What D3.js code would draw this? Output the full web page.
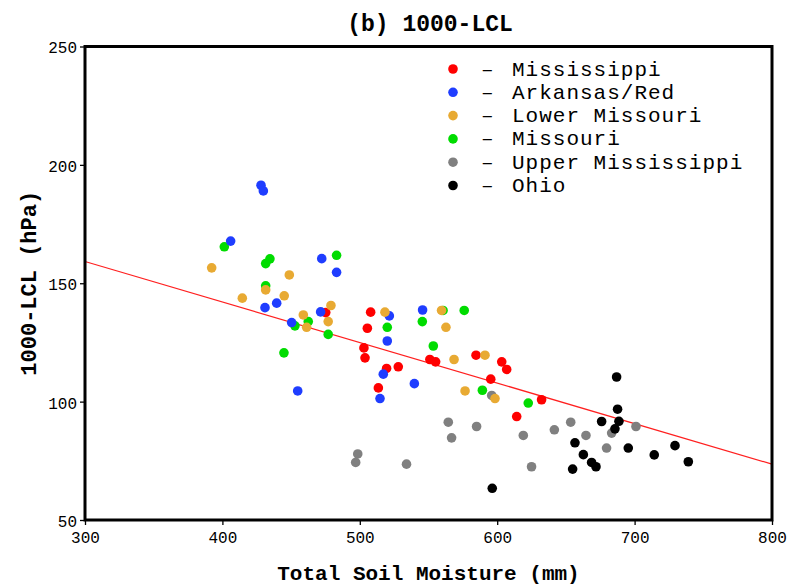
<!DOCTYPE html>
<html><head><meta charset="utf-8">
<script src="https://cdn.jsdelivr.net/npm/d3@7"></script>
<style>body{margin:0;background:#fff}svg{display:block}</style>
</head><body><svg id="c" width="787" height="585"></svg>
<script>
// ---- data ----
const seriesNames = ["Mississippi","Arkansas/Red","Lower Missouri","Missouri","Upper Mississippi","Ohio"];
const seriesColors = ["#ff0000","#1f3dff","#e8aa33","#00dc00","#808080","#000000"];

const mississippiX = [475.2,507.9,505.5,503,503.8,519.5,528,513.5,551,555.2,584.6,603.3,606.9,595.3,632.3,614.2];
const mississippiY = [137.6,137.8,131.0,122.7,118.5,114,114.7,105.8,117.8,116.8,119.6,116.8,113.6,109.5,100.8,93.7];

const arkansasX = [428.1,429.8,406,439.5,431,450.4,472.3,483.1,471.5,454.8,521.5,520,517.1,514.7,539.7,545.7];
const arkansasY = [191.4,189.0,167.8,141.6,139.7,133.4,160.4,154.6,137.9,104.5,136.2,125.6,111.6,101.3,107.6,138.7];

const lowerMissouriX = [392.2,414.5,431.5,445,448.7,458.9,461.3,479,477,518.3,559.5,562.7,568.6,591.1,576.6,598.4];
const lowerMissouriY = [156.5,143.7,147.2,144.7,153.5,136.6,131.4,140.6,133.8,137.8,138.5,131.4,117.8,119.6,104.5,101.3];

const missouriX = [401.4,431.5,434.6,431.5,452.8,444.8,462.5,483.1,477,520,545.5,560.6,576,553.5,589.2,622.6];
const missouriY = [165.4,158.3,160.3,148.9,132.0,120.6,133.8,161.8,128.4,131.4,133.8,138.5,138.5,123.5,104.8,99.4];

const upperMissX = [596,564.4,585,566.8,619,641.6,653.5,664.6,498.5,497,534,625,683.3,701,679.6];
const upperMissY = [102.6,91.3,89.5,84.7,85.7,88.1,91.3,85.7,77.9,74.3,73.6,72.5,86.7,89.5,80.4];

const ohioX = [686.9,687.6,688.6,685.7,676,656.6,662.7,668.7,671.9,654.9,695.4,714.3,729.4,739.1,596.4];
const ohioY = [110.4,96.8,91.7,88.5,91.6,82.6,77.6,74.3,72.5,71.5,80.4,77.5,81.4,74.6,63.4];

const xTicks = [300,400,500,600,700,800];
const yTicks = [50,100,150,200,250];
const fitX = [300,800];
const fitY = [159.2,73.6];

const titleText = "(b) 1000-LCL";
const xLabel = "Total Soil Moisture (mm)";
const yLabel = "1000-LCL (hPa)";

// ---- chart ----
const svg = d3.select("#c");
const L = 85, R = 772, T = 46.5, B = 520;
const x = d3.scaleLinear().domain([300,800]).range([L,R]);
const y = d3.scaleLinear().domain([50,250]).range([B,T]);

const mono = "'Liberation Mono','DejaVu Sans Mono',monospace";

// axes
const xAxis = d3.axisBottom(x).tickValues(xTicks).tickSize(5).tickPadding(7).tickFormat(d3.format("d"));
const yAxis = d3.axisLeft(y).tickValues(yTicks).tickSize(5).tickPadding(3).tickFormat(d3.format("d"));
const gx = svg.append("g").attr("transform",`translate(0,${B})`).call(xAxis);
const gy = svg.append("g").attr("transform",`translate(${L},0)`).call(yAxis);
[gx,gy].forEach(g=>{
  g.select(".domain").remove();
  g.selectAll(".tick line").attr("stroke","#000").attr("stroke-width",1.3);
  g.selectAll(".tick text").attr("font-family",mono).attr("font-size",16).attr("fill","#000");
});
gy.selectAll(".tick text").attr("dy","0.4em");

// regression line
svg.append("line")
  .attr("x1",x(fitX[0])).attr("y1",y(fitY[0]))
  .attr("x2",x(fitX[1])).attr("y2",y(fitY[1]))
  .attr("stroke","#ff2020").attr("stroke-width",1.2);

// points
const series = [
  {name:seriesNames[4], color:seriesColors[4], xs:upperMissX, ys:upperMissY},
  {name:seriesNames[5], color:seriesColors[5], xs:ohioX, ys:ohioY},
  {name:seriesNames[3], color:seriesColors[3], xs:missouriX, ys:missouriY},
  {name:seriesNames[0], color:seriesColors[0], xs:mississippiX, ys:mississippiY},
  {name:seriesNames[1], color:seriesColors[1], xs:arkansasX, ys:arkansasY},
  {name:seriesNames[2], color:seriesColors[2], xs:lowerMissouriX, ys:lowerMissouriY}
];
series.forEach(s=>{
  svg.append("g").selectAll("circle")
    .data(s.xs.map((v,i)=>[v,s.ys[i]]))
    .join("circle")
    .attr("cx",d=>x(d[0])).attr("cy",d=>y(d[1]))
    .attr("r",4.8).attr("fill",s.color);
});

// frame
svg.append("rect").attr("x",L).attr("y",T).attr("width",R-L).attr("height",B-T)
  .attr("fill","none").attr("stroke","#000").attr("stroke-width",3);

// legend
const lg = svg.append("g");
seriesNames.forEach((n,i)=>{
  const cy = 69 + i*23.3;
  lg.append("circle").attr("cx",453).attr("cy",cy).attr("r",4.8).attr("fill",seriesColors[i]);
  lg.append("text").attr("x",481).attr("y",cy+6.5).attr("font-family",mono).attr("font-size",21).text("–");
  lg.append("text").attr("x",512).attr("y",cy+6.5).attr("font-family",mono).attr("font-size",21)
    .attr("letter-spacing",1).text(n);
});

// titles
svg.append("text").attr("x",430).attr("y",31).attr("text-anchor","middle")
  .attr("font-family",mono).attr("font-weight","bold").attr("font-size",23).text(titleText);
svg.append("text").attr("x",428.5).attr("y",580).attr("text-anchor","middle")
  .attr("font-family",mono).attr("font-weight","bold").attr("font-size",21).text(xLabel);
svg.append("text").attr("transform",`translate(36,${(T+B)/2}) rotate(-90)`).attr("text-anchor","middle")
  .attr("font-family",mono).attr("font-weight","bold").attr("font-size",22).text(yLabel);
</script>
</body></html>
